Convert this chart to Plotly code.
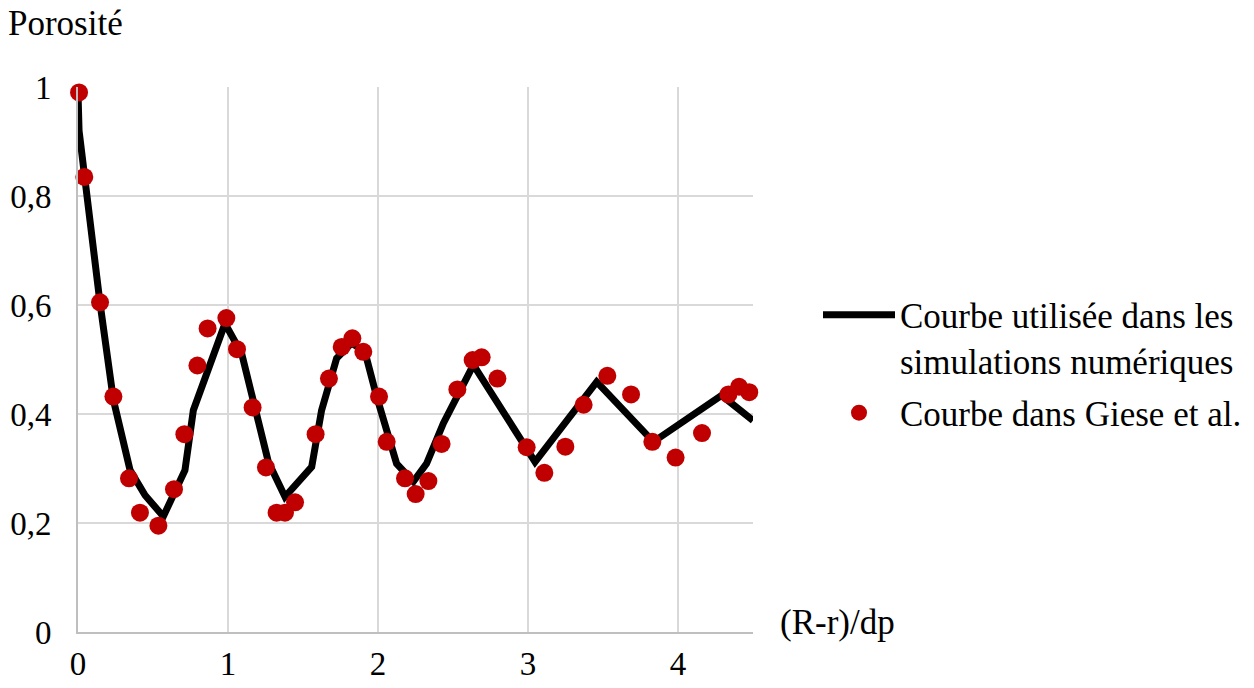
import plotly.graph_objects as go

# Curve used in simulations (polyline vertices)
line_x = [0, 0.007, 0.147, 0.236, 0.347, 0.447, 0.569, 0.713, 0.769, 0.891, 0.98,
          1.091, 1.169, 1.269, 1.38, 1.558, 1.624, 1.724, 1.824, 1.913, 1.991,
          2.08, 2.124, 2.236, 2.324, 2.436, 2.524, 2.636, 3.047, 3.458, 3.836,
          4.102, 4.291, 4.5]
line_y = [0.99, 0.92, 0.603, 0.426, 0.297, 0.251, 0.212, 0.297, 0.407, 0.499, 0.566,
          0.511, 0.426, 0.312, 0.248, 0.303, 0.407, 0.502, 0.530, 0.514, 0.432,
          0.352, 0.309, 0.276, 0.309, 0.383, 0.432, 0.490, 0.312, 0.459, 0.349,
          0.401, 0.434, 0.388]

# Giese et al. data points
giese_x = [0.007, 0.042, 0.147, 0.236, 0.34, 0.413, 0.536, 0.64, 0.709, 0.796,
           0.864, 0.989, 1.06, 1.164, 1.253, 1.324, 1.38, 1.447, 1.584, 1.673,
           1.758, 1.829, 1.902, 2.007, 2.058, 2.18, 2.251, 2.336, 2.424, 2.529,
           2.631, 2.691, 2.796, 2.991, 3.109, 3.249, 3.371, 3.529, 3.687, 3.829,
           3.984, 4.16, 4.336, 4.407, 4.475]
giese_y = [0.99, 0.835, 0.605, 0.432, 0.282, 0.219, 0.195, 0.262, 0.363, 0.489,
           0.557, 0.576, 0.519, 0.412, 0.302, 0.219, 0.219, 0.238, 0.363, 0.465,
           0.523, 0.539, 0.514, 0.432, 0.349, 0.282, 0.253, 0.277, 0.345, 0.445,
           0.499, 0.504, 0.465, 0.339, 0.292, 0.34, 0.417, 0.470, 0.436, 0.349,
           0.32, 0.365, 0.436, 0.45, 0.44]

x_ticks = [0, 1, 2, 3, 4]
y_ticks = [0, 0.2, 0.4, 0.6, 0.8, 1]
y_tick_text = ["0", "0,2", "0,4", "0,6", "0,8", "1"]

FONT = "Liberation Serif"
FS = 35
TICK_FS = 33

fig = go.Figure()
fig.add_trace(go.Scatter(
    x=line_x, y=line_y, mode="lines",
    line=dict(color="black", width=7),
    name="Courbe utilisée dans les<br>simulations numériques",
    legendgroup="sim",
))
fig.add_trace(go.Scatter(
    x=giese_x, y=giese_y, mode="markers",
    marker=dict(color="#C00000", size=18),
    name="Courbe dans Giese et al.",
    legendgroup="giese",
    cliponaxis=False,
))

# page body has an 8px margin: figure is 1246x680 placed at (8, 8)
fig.update_layout(
    width=1246, height=680,
    margin=dict(l=70, r=501, t=79, b=56, autoexpand=False),
    paper_bgcolor="white", plot_bgcolor="white",
    font=dict(family=FONT, size=FS, color="black"),
    showlegend=True,
    legend=dict(
        x=1.0963, y=0.636, xanchor="left", yanchor="top",
        valign="top", itemwidth=72, traceorder="grouped", tracegroupgap=4,
        font=dict(family=FONT, size=FS, color="black"),
        bgcolor="rgba(0,0,0,0)",
    ),
    xaxis=dict(
        range=[0, 4.5], tickvals=x_ticks, ticktext=[str(v) for v in x_ticks],
        showgrid=True, gridcolor="#d9d9d9", gridwidth=2,
        showline=True, linecolor="#bfbfbf", linewidth=2,
        zeroline=False, ticks="", ticklabelstandoff=1, automargin=False,
        tickfont=dict(family=FONT, size=TICK_FS, color="black"),
    ),
    yaxis=dict(
        range=[0, 1], tickvals=y_ticks, ticktext=y_tick_text,
        showgrid=True, gridcolor="#d9d9d9", gridwidth=2,
        showline=True, linecolor="#bfbfbf", linewidth=2,
        zeroline=False, ticks="", ticklabelstandoff=18, automargin=False,
        tickfont=dict(family=FONT, size=TICK_FS, color="black"),
    ),
    annotations=[
        dict(text="Porosité", xref="paper", yref="paper",
             x=-72/675, y=1 + 64/545, xanchor="left", yanchor="middle",
             showarrow=False, font=dict(family=FONT, size=FS, color="black")),
        dict(text="(R-r)/dp", xref="paper", yref="paper",
             x=(778-78)/675, y=(632-622)/545, xanchor="left", yanchor="middle",
             showarrow=False, font=dict(family=FONT, size=FS, color="black")),
    ],
)

fig.write_html("out.html")
